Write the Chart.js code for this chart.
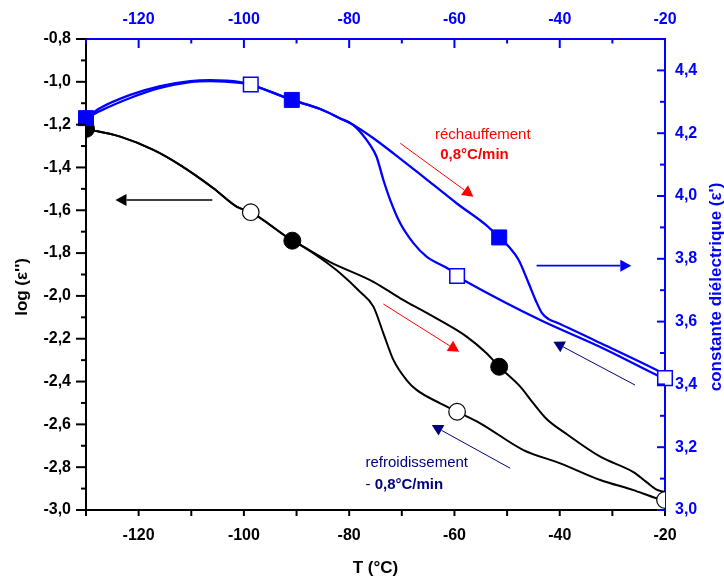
<!DOCTYPE html>
<html>
<head>
<meta charset="utf-8">
<script src="https://cdn.jsdelivr.net/npm/chart.js@4.4.1/dist/chart.umd.min.js"></script>
<style>
html,body{margin:0;padding:0;background:#fff;}
#chart{display:block;}
</style>
</head>
<body>
<canvas id="chart" width="724" height="580"></canvas>
<script>
// Tick labels
const xTicks = [-120, -100, -80, -60, -40, -20];
const xMinor = [-130, -110, -90, -70, -50, -30];
const yLeftTicks = [-3.0, -2.8, -2.6, -2.4, -2.2, -2.0, -1.8, -1.6, -1.4, -1.2, -1.0, -0.8];
const yLeftMinor = [-2.9, -2.7, -2.5, -2.3, -2.1, -1.9, -1.7, -1.5, -1.3, -1.1, -0.9];
const yRightTicks = [3.0, 3.2, 3.4, 3.6, 3.8, 4.0, 4.2, 4.4];
const yRightMinor = [3.1, 3.3, 3.5, 3.7, 3.9, 4.1, 4.3, 4.5];

// Dielectric constant (right axis) - heating
const tEpsHeat = [-130, -127.3, -121.6, -115.9, -110.2, -106.4, -100.7, -98.7, -90.9, -85.5, -81.7, -79.2, -75.4, -71.6, -65.9, -59.6, -53.6, -51.5, -49.7, -47.8, -45.9, -44.6, -43.4, -42.1, -40.6, -32.3, -21.6, -20];
const epsHeat = [4.248, 4.271, 4.312, 4.344, 4.363, 4.366, 4.360, 4.354, 4.306, 4.277, 4.247, 4.226, 4.184, 4.136, 4.061, 3.977, 3.902, 3.868, 3.839, 3.796, 3.722, 3.669, 3.628, 3.608, 3.597, 3.532, 3.446, 3.432];
// Dielectric constant - cooling
const tEpsCool = [-130, -127.3, -121.6, -115.9, -110.2, -106.4, -100.7, -98.7, -90.9, -85.5, -81.7, -79.2, -76.0, -74.8, -73.5, -72.2, -70.3, -67.8, -65.3, -60.8, -59.5, -57.7, -43.7, -32.3, -21.6, -20];
const epsCool = [4.248, 4.280, 4.322, 4.350, 4.366, 4.369, 4.363, 4.355, 4.306, 4.277, 4.247, 4.226, 4.162, 4.125, 4.051, 3.987, 3.913, 3.850, 3.807, 3.764, 3.745, 3.727, 3.605, 3.519, 3.430, 3.417];

// log(eps'') (left axis) - heating
const tLossHeat = [-130, -123.5, -117.2, -112.1, -105.8, -101.4, -98.7, -90.8, -89.3, -83.6, -75.4, -70.3, -64.0, -57.7, -53.9, -51.5, -47.5, -45.0, -42.5, -38.7, -32.3, -26.0, -23.5, -21.6, -20];
const lossHeat = [-1.220, -1.256, -1.318, -1.389, -1.497, -1.583, -1.609, -1.742, -1.762, -1.842, -1.934, -2.011, -2.097, -2.190, -2.268, -2.331, -2.424, -2.502, -2.575, -2.645, -2.751, -2.823, -2.870, -2.905, -2.916];
// log(eps'') - cooling
const tLossCool = [-130, -123.5, -117.2, -112.1, -105.8, -101.4, -98.7, -90.8, -89.3, -85.5, -81.7, -77.9, -75.4, -73.5, -71.6, -69.1, -67.2, -62.7, -59.5, -55.1, -46.9, -39.9, -32.3, -26.0, -21.6, -20];
const lossCool = [-1.220, -1.256, -1.318, -1.389, -1.497, -1.583, -1.609, -1.742, -1.762, -1.823, -1.894, -1.982, -2.050, -2.175, -2.299, -2.393, -2.439, -2.502, -2.541, -2.595, -2.720, -2.782, -2.860, -2.907, -2.945, -2.953];

// Symbols
const tSqHeat = [-130, -90.9, -51.5];
const sqHeat = [4.248, 4.306, 3.868];
const tSqCool = [-98.7, -59.5, -20];
const sqCool = [4.355, 3.745, 3.42];
const tCircHeat = [-130, -90.8, -51.5];
const circHeat = [-1.22, -1.742, -2.331];
const tCircCool = [-98.7, -59.5, -20];
const circCool = [-1.609, -2.541, -2.953];

// Annotations (data coordinates)
const arrows = [
  {axis:'yL', from:[-106.0, -1.552], to:[-124.4, -1.552], color:'#000000', lw:1.3},
  {axis:'yR', from:[-44.4, 3.778], to:[-26.4, 3.778], color:'#0000ff', lw:1.8},
  {axis:'yR', from:[-70.3, 4.168], to:[-56.4, 3.998], color:'#ff0000', lw:1},
  {axis:'yL', from:[-73.5, -2.038], to:[-59.1, -2.261], color:'#ff0000', lw:1},
  {axis:'yR', from:[-25.7, 3.398], to:[-41.2, 3.536], color:'#000080', lw:1},
  {axis:'yL', from:[-49.4, -2.805], to:[-64.3, -2.603], color:'#000080', lw:1}
];
const notes = [
  {axis:'yR', t:-63.7, v:4.194, parts:[['réchauffement', false]], color:'#ff0000'},
  {axis:'yR', t:-62.7, v:4.131, parts:[['0,8°C/min', true]], color:'#ff0000'},
  {axis:'yL', t:-76.9, v:-2.780, parts:[['refroidissement', false]], color:'#000080'},
  {axis:'yL', t:-76.9, v:-2.883, parts:[['- ', false], ['0,8°C/min', true]], color:'#000080'}
];

const FONT = "'Liberation Sans', Arial, sans-serif";
const BLUE = '#0000ff';
const pts = (xs, ys) => xs.map((x, i) => ({x, y: ys[i]}));
const dec = v => v.toFixed(1).replace('.', ',');
const setTicks = arr => s => { s.ticks = arr.map(v => ({value: v})); };

function drawArrow(ctx, x1, y1, x2, y2, color, lw){
  const ang = Math.atan2(y2 - y1, x2 - x1);
  const hl = 11, hw = 6;
  const bx = x2 - Math.cos(ang) * hl, by = y2 - Math.sin(ang) * hl;
  ctx.strokeStyle = color; ctx.fillStyle = color; ctx.lineWidth = lw;
  ctx.beginPath(); ctx.moveTo(x1, y1); ctx.lineTo(bx, by); ctx.stroke();
  ctx.beginPath();
  ctx.moveTo(x2, y2);
  ctx.lineTo(bx + Math.sin(ang) * hw, by - Math.cos(ang) * hw);
  ctx.lineTo(bx - Math.sin(ang) * hw, by + Math.cos(ang) * hw);
  ctx.closePath(); ctx.fill();
}

const decor = {
  id: 'decor',
  afterDraw(chart){
    const {ctx, chartArea: a, scales} = chart;
    const x = scales.x;
    ctx.save();
    ctx.lineWidth = 2;
    // bottom ticks (outside)
    ctx.strokeStyle = '#000';
    xTicks.concat(xMinor).forEach(v => {
      const p = x.getPixelForValue(v);
      ctx.beginPath(); ctx.moveTo(p, a.bottom); ctx.lineTo(p, a.bottom + 6); ctx.stroke();
    });
    // left ticks (outside)
    yLeftTicks.forEach(v => {
      const p = scales.yL.getPixelForValue(v);
      ctx.beginPath(); ctx.moveTo(a.left, p); ctx.lineTo(a.left - 10, p); ctx.stroke();
    });
    yLeftMinor.forEach(v => {
      const p = scales.yL.getPixelForValue(v);
      ctx.beginPath(); ctx.moveTo(a.left, p); ctx.lineTo(a.left - 5, p); ctx.stroke();
    });
    // top ticks (inside)
    ctx.strokeStyle = BLUE;
    xTicks.forEach(v => {
      const p = x.getPixelForValue(v);
      ctx.beginPath(); ctx.moveTo(p, a.top); ctx.lineTo(p, a.top + 9); ctx.stroke();
    });
    xMinor.forEach(v => {
      const p = x.getPixelForValue(v);
      ctx.beginPath(); ctx.moveTo(p, a.top); ctx.lineTo(p, a.top + 4.5); ctx.stroke();
    });
    // right ticks (inside)
    yRightTicks.forEach(v => {
      const p = scales.yR.getPixelForValue(v);
      ctx.beginPath(); ctx.moveTo(a.right, p); ctx.lineTo(a.right - 8, p); ctx.stroke();
    });
    yRightMinor.forEach(v => {
      const p = scales.yR.getPixelForValue(v);
      ctx.beginPath(); ctx.moveTo(a.right, p); ctx.lineTo(a.right - 5, p); ctx.stroke();
    });

    // axis titles
    ctx.textAlign = 'center'; ctx.textBaseline = 'middle';
    ctx.font = 'bold 17px ' + FONT;
    ctx.fillStyle = '#000';
    ctx.fillText('T (°C)', (a.left + a.right) / 2, a.bottom + 58);
    ctx.save();
    ctx.translate(a.left - 64, 287); ctx.rotate(-Math.PI / 2);
    ctx.fillText("log (ε'')", 0, 0);
    ctx.restore();
    ctx.save();
    ctx.fillStyle = BLUE;
    ctx.translate(a.right + 51, 287); ctx.rotate(-Math.PI / 2);
    ctx.fillText("constante diélectrique (ε')", 0, 0);
    ctx.restore();

    // arrows
    arrows.forEach(r => {
      const y = scales[r.axis];
      drawArrow(ctx, x.getPixelForValue(r.from[0]), y.getPixelForValue(r.from[1]),
        x.getPixelForValue(r.to[0]), y.getPixelForValue(r.to[1]), r.color, r.lw);
    });
    // notes
    ctx.textAlign = 'left';
    notes.forEach(n => {
      let px = x.getPixelForValue(n.t);
      const py = scales[n.axis].getPixelForValue(n.v);
      ctx.fillStyle = n.color;
      n.parts.forEach(([txt, bold]) => {
        ctx.font = (bold ? 'bold ' : '') + '15px ' + FONT;
        ctx.fillText(txt, px, py);
        px += ctx.measureText(txt).width;
      });
    });
    ctx.restore();
  }
};

const tickFont = {family: FONT, size: 16, weight: 'bold'};

new Chart(document.getElementById('chart'), {
  type: 'line',
  data: {
    datasets: [
      {data: pts(tSqHeat, sqHeat), xAxisID:'x', yAxisID:'yR', showLine:false, pointStyle:'rect', pointRadius:10.6, backgroundColor:BLUE, borderColor:BLUE, borderWidth:1, clip:false},
      {data: pts(tSqCool, sqCool), xAxisID:'x', yAxisID:'yR', showLine:false, pointStyle:'rect', pointRadius:10.3, backgroundColor:'#fff', borderColor:BLUE, borderWidth:1.5, clip:false},
      {data: pts(tCircHeat, circHeat), xAxisID:'x', yAxisID:'yL', showLine:false, pointStyle:'circle', pointRadius:8.5, backgroundColor:'#000', borderColor:'#000', borderWidth:1, clip:0},
      {data: pts(tCircCool, circCool), xAxisID:'x', yAxisID:'yL', showLine:false, pointStyle:'circle', pointRadius:8.3, backgroundColor:'#fff', borderColor:'#000', borderWidth:1.2, clip:0},
      {data: pts(tEpsHeat, epsHeat), xAxisID:'x', yAxisID:'yR', borderColor:BLUE, borderWidth:2.3, pointRadius:0, cubicInterpolationMode:'monotone', fill:false},
      {data: pts(tEpsCool, epsCool), xAxisID:'x', yAxisID:'yR', borderColor:BLUE, borderWidth:2.3, pointRadius:0, cubicInterpolationMode:'monotone', fill:false},
      {data: pts(tLossHeat, lossHeat), xAxisID:'x', yAxisID:'yL', borderColor:'#000', borderWidth:2, pointRadius:0, cubicInterpolationMode:'monotone', fill:false},
      {data: pts(tLossCool, lossCool), xAxisID:'x', yAxisID:'yL', borderColor:'#000', borderWidth:2, pointRadius:0, cubicInterpolationMode:'monotone', fill:false}
    ]
  },
  options: {
    responsive: false,
    animation: false,
    layout: {padding: 0},
    plugins: {legend: {display: false}, tooltip: {enabled: false}},
    scales: {
      x: {
        type: 'linear', position: 'bottom', min: -130, max: -20,
        afterBuildTicks: setTicks(xTicks), afterFit: s => { s.height = 70; },
        grid: {display: false, drawTicks: false},
        border: {display: true, color: '#000', width: 2},
        ticks: {padding: 16, color: '#000', font: tickFont, callback: v => String(v)}
      },
      x2: {
        type: 'linear', axis: 'x', position: 'top', min: -130, max: -20,
        afterBuildTicks: setTicks(xTicks), afterFit: s => { s.height = 39; },
        grid: {display: false, drawTicks: false},
        border: {display: true, color: BLUE, width: 2},
        ticks: {padding: 10, color: BLUE, font: tickFont, callback: v => String(v)}
      },
      yL: {
        type: 'linear', position: 'left', min: -3.0, max: -0.8,
        afterBuildTicks: setTicks(yLeftTicks), afterFit: s => { s.width = 86; },
        grid: {display: false, drawTicks: false},
        border: {display: true, color: '#000', width: 2},
        ticks: {padding: 15, color: '#000', font: tickFont, callback: v => dec(v)}
      },
      yR: {
        type: 'linear', position: 'right', min: 3.0, max: 4.5,
        afterBuildTicks: setTicks(yRightTicks), afterFit: s => { s.width = 59; },
        grid: {display: false, drawTicks: false},
        border: {display: true, color: BLUE, width: 2},
        ticks: {padding: 10, color: BLUE, font: tickFont, callback: v => dec(v)}
      }
    }
  },
  plugins: [decor]
});
</script>
</body>
</html>
